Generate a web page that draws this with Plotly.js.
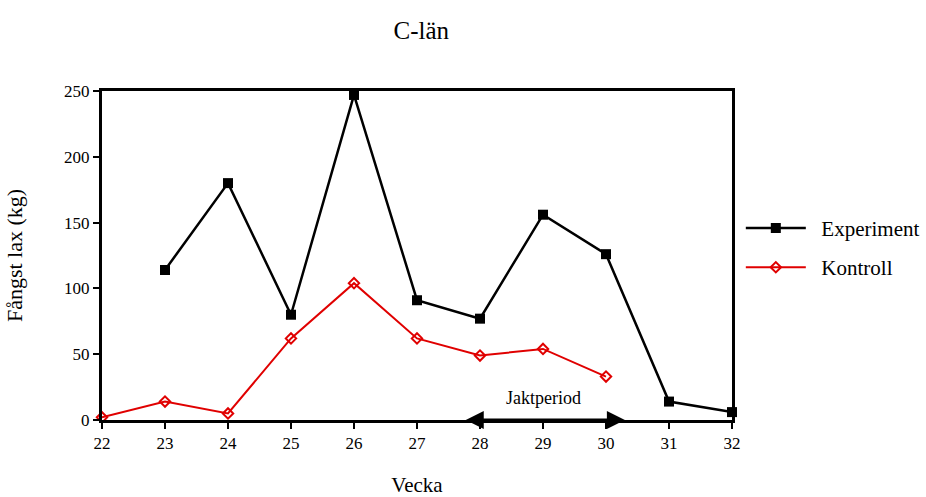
<!DOCTYPE html>
<html><head><meta charset="utf-8">
<script src="https://cdn.plot.ly/plotly-3.0.1.min.js"></script>
<style>body{margin:0;background:#fff}#chart{width:926px;height:497px}</style>
</head><body><div id="chart"></div>
<script>
const expWeeks = [23, 24, 25, 26, 27, 28, 29, 30, 31, 32];
const expValues = [114, 180, 80, 247, 91, 77, 156, 126, 14, 6];
const ctrlWeeks = [22, 23, 24, 25, 26, 27, 28, 29, 30];
const ctrlValues = [2, 14, 5, 62, 104, 62, 49, 54, 33];
const xTicks = [22, 23, 24, 25, 26, 27, 28, 29, 30, 31, 32];
const yTicks = [0, 50, 100, 150, 200, 250];
const jaktStart = 27.75, jaktEnd = 30.3, jaktLabelX = 29, jaktLabelY = 17;

const F = 'Liberation Serif, Times New Roman, serif';
const traces = [
  {x: expWeeks, y: expValues, name: '\u00A0\u00A0Experiment', legendgroup: 'a', mode: 'lines+markers',
   line: {color: '#000', width: 2.5}, marker: {symbol: 'square', size: 10, color: '#000'}, cliponaxis: false},
  {x: ctrlWeeks, y: ctrlValues, name: '\u00A0\u00A0Kontroll', legendgroup: 'b', mode: 'lines+markers',
   line: {color: '#e00000', width: 2}, marker: {symbol: 'diamond-open', size: 8, color: '#e00000', line: {width: 2}}, cliponaxis: false}
];
const layout = {
  width: 926, height: 497,
  margin: {l: 102, r: 194, t: 91, b: 77, autoexpand: false},
  paper_bgcolor: '#fff', plot_bgcolor: '#fff',
  font: {family: F, size: 17, color: '#000'},
  title: {text: 'C-län', font: {family: F, size: 25}, x: 0.455, xanchor: 'center', y: 0.94, yanchor: 'middle'},
  xaxis: {range: [22, 32], tickvals: xTicks, ticktext: xTicks.map(String), showgrid: false, zeroline: false,
          showline: true, linewidth: 3, linecolor: '#000', mirror: true,
          ticks: 'outside', ticklen: 6, tickwidth: 2, tickcolor: '#000',
          title: {text: 'Vecka', font: {family: F, size: 21}, standoff: 36}},
  yaxis: {range: [0, 250], tickvals: yTicks, ticktext: yTicks.map(String), showgrid: false, zeroline: false,
          showline: true, linewidth: 3, linecolor: '#000', mirror: true,
          ticks: 'outside', ticklen: 6, tickwidth: 2, tickcolor: '#000',
          title: {text: 'Fångst lax (kg)', font: {family: F, size: 22}, standoff: 36}},
  legend: {x: 1.014, xanchor: 'left', y: 0.645, yanchor: 'top', font: {family: F, size: 21},
           itemwidth: 60, tracegroupgap: 9, bgcolor: 'rgba(0,0,0,0)'},
  showlegend: true,
  annotations: [
    {x: jaktEnd, y: 0, ax: jaktStart, ay: 0, xref: 'x', yref: 'y', axref: 'x', ayref: 'y',
     text: '', showarrow: true, arrowside: 'end+start', arrowhead: 2, arrowsize: 1.2, arrowwidth: 3, arrowcolor: '#000'},
    {x: jaktLabelX, y: jaktLabelY, xref: 'x', yref: 'y', text: 'Jaktperiod', showarrow: false,
     font: {family: F, size: 18}}
  ]
};
Plotly.newPlot('chart', traces, layout, {displayModeBar: false});
</script></body></html>
